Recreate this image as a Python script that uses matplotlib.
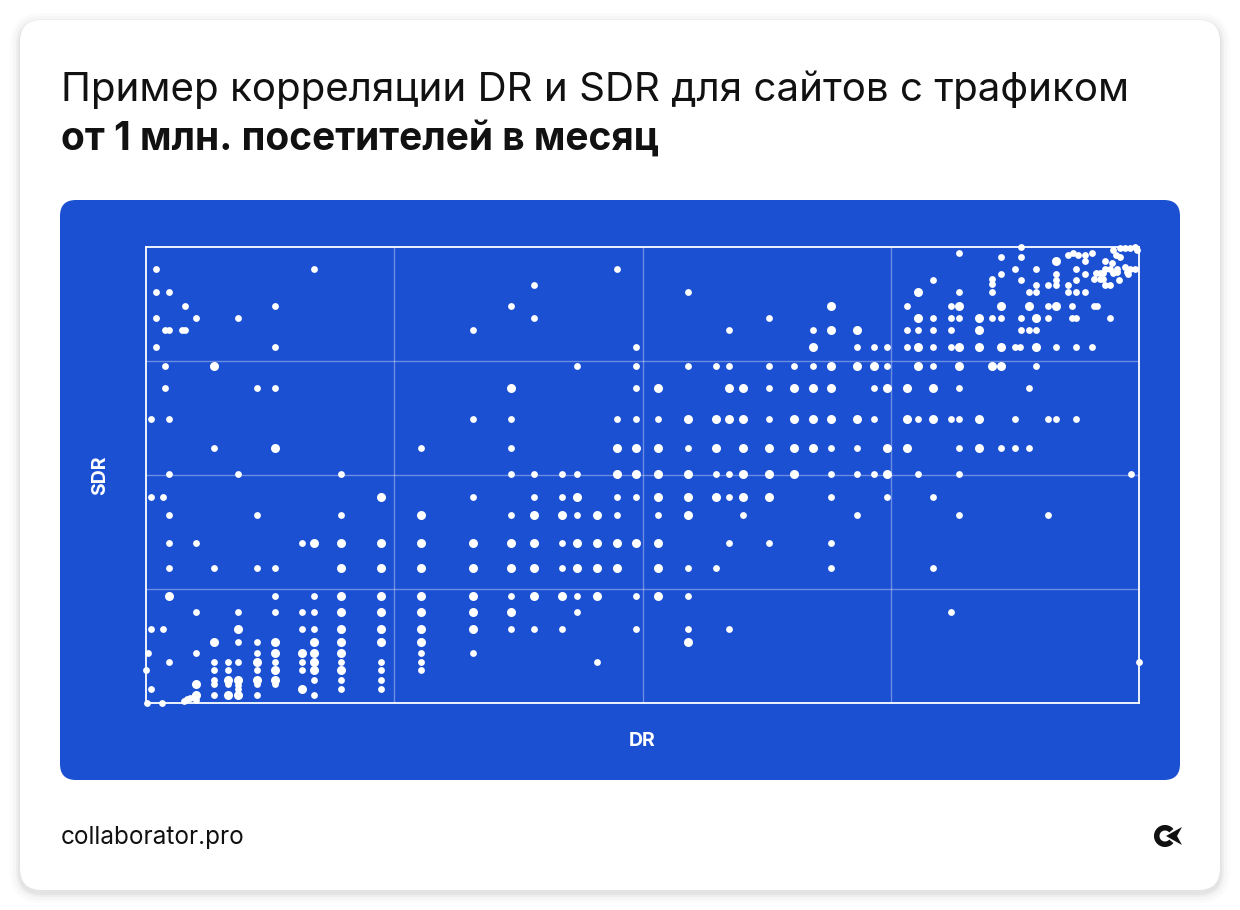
import matplotlib.pyplot as plt
from matplotlib.patches import FancyBboxPatch, Wedge, Polygon

# (DR, SDR); small dots and bigger dots
small_pts = [
    (1.0, 95.2), (16.9, 95.2), (1.0, 90.1), (2.3, 90.1), (3.9, 87.1), (13.0, 87.1),
    (1.0, 84.4), (5.0, 84.4), (9.3, 84.4), (1.9, 81.8), (2.3, 81.8), (3.6, 81.8),
    (3.9, 81.8), (1.0, 78.0), (13.0, 78.0), (1.9, 74.0), (1.9, 69.0), (11.2, 69.0),
    (13.0, 69.0), (0.5, 62.3), (2.3, 62.3), (6.8, 55.9), (2.3, 50.2), (9.3, 50.2),
    (19.6, 50.2),
    (0.5, 45.2), (1.7, 45.2), (2.3, 41.2), (11.2, 41.2), (19.6, 41.2), (2.3, 35.1),
    (5.0, 35.1), (15.7, 35.1), (2.3, 29.5), (6.8, 29.5), (11.2, 29.5), (13.0, 29.5),
    (13.0, 23.5), (16.9, 23.5), (5.0, 19.9), (9.3, 19.9), (13.0, 19.9), (15.7, 19.9),
    (16.9, 19.9), (0.5, 16.2), (1.7, 16.2), (15.7, 16.2), (16.9, 16.2), (9.3, 13.4),
    (11.2, 13.4), (0.2, 10.9), (5.0, 10.9), (11.2, 10.9), (2.3, 8.9), (6.8, 8.9),
    (8.3, 8.9), (9.3, 8.9), (13.0, 8.9), (15.7, 8.9), (19.6, 8.9), (23.7, 8.9),
    (0.0, 7.2), (6.8, 7.2), (8.3, 7.2), (11.2, 7.2), (15.7, 7.2), (23.7, 7.2),
    (6.8, 5.0), (16.9, 5.0), (19.6, 5.0), (23.7, 5.0), (6.8, 4.2), (8.3, 4.2),
    (9.3, 3.9), (11.2, 4.2), (13.0, 4.2), (0.5, 3.1), (9.3, 3.1), (19.6, 3.1),
    (23.7, 3.1), (6.8, 1.7), (11.2, 1.7), (16.9, 1.7), (3.8, 0.5), (4.1, 0.8),
    (4.4, 1.2), (4.8, 1.4), (5.0, 0.7), (0.1, 0.1), (1.6, 0.1),
    (47.4, 95.2), (39.1, 91.6), (36.8, 87.1), (39.1, 84.4), (32.9, 81.8), (49.3, 78.0),
    (43.4, 74.0), (49.3, 74.0), (49.3, 69.0), (32.9, 62.3), (36.8, 62.3), (47.4, 62.3),
    (49.3, 62.3), (27.7, 55.9), (36.8, 55.9), (36.8, 50.2), (39.1, 50.2), (41.9, 50.2),
    (43.4, 50.2),
    (32.9, 45.2), (39.1, 45.2), (41.9, 45.2), (47.4, 45.2), (49.3, 45.2), (36.8, 41.2),
    (43.4, 41.2), (47.4, 41.2), (41.9, 35.1), (41.9, 29.5), (36.8, 23.5), (43.4, 23.5),
    (49.3, 23.5), (43.4, 19.9), (36.8, 16.2), (39.1, 16.2), (41.9, 16.2), (49.3, 16.2),
    (27.7, 10.9), (32.9, 10.9), (27.7, 8.9), (45.4, 8.9), (27.7, 7.2),
    (54.6, 90.1), (62.7, 84.4), (58.7, 81.8), (67.2, 81.8), (71.6, 78.0), (73.3, 78.0),
    (74.6, 78.0), (54.6, 74.0), (57.4, 74.0), (58.7, 74.0), (62.7, 74.0), (65.3, 74.0),
    (67.2, 74.0), (74.6, 74.0), (62.7, 69.0), (73.3, 69.0), (51.6, 62.3), (62.7, 62.3),
    (73.3, 62.3), (54.6, 55.9), (69.0, 55.9), (71.6, 55.9), (57.4, 50.2), (58.7, 50.2),
    (69.0, 50.2), (71.6, 50.2), (73.3, 50.2),
    (58.7, 45.2), (69.0, 45.2), (74.6, 45.2), (51.6, 41.2), (60.1, 41.2), (71.6, 41.2),
    (58.7, 35.1), (62.7, 35.1), (69.0, 35.1), (54.6, 29.5), (57.4, 29.5), (69.0, 29.5),
    (54.6, 23.5), (54.6, 16.2), (58.7, 16.2),
    (76.6, 78.0), (79.3, 78.0), (81.1, 78.0), (87.5, 78.0), (88.0, 78.0), (91.6, 78.0),
    (93.7, 78.0), (95.3, 78.0), (79.3, 74.0), (89.6, 74.0), (81.9, 69.0), (88.9, 69.0),
    (77.7, 62.3), (81.1, 62.3), (81.9, 62.3), (87.5, 62.3), (90.8, 62.3), (91.6, 62.3),
    (93.7, 62.3), (81.9, 55.9), (86.1, 55.9), (87.5, 55.9), (88.9, 55.9), (77.7, 50.2),
    (81.9, 50.2), (99.2, 50.2), (79.3, 45.2), (81.9, 41.2), (90.8, 41.2), (79.3, 29.5),
    (81.1, 19.9), (100.0, 8.9),
    (81.9, 98.6), (86.1, 97.7), (86.1, 94.1), (79.3, 92.8), (85.2, 92.9), (85.2, 91.8),
    (81.9, 90.1), (85.2, 90.1), (76.6, 87.1), (81.1, 87.1), (79.3, 84.4), (81.1, 84.4),
    (81.9, 84.4), (85.2, 84.4), (86.1, 84.4), (76.6, 81.8), (77.7, 81.8), (79.3, 81.8),
    (81.1, 81.8),
    (88.1, 100.0), (88.1, 97.7), (87.5, 95.2), (89.6, 95.2), (88.1, 92.8), (92.9, 98.2),
    (93.4, 98.6), (93.9, 98.2), (94.6, 98.2), (94.6, 96.9), (95.3, 98.6), (97.4, 99.3),
    (97.7, 98.2), (98.1, 97.7), (98.1, 99.7), (98.6, 99.7), (99.1, 99.7), (99.6, 99.9),
    (99.8, 99.3), (96.6, 96.9), (97.3, 96.4), (93.7, 95.2), (96.6, 95.2), (97.1, 95.2),
    (97.8, 95.2), (98.6, 95.7), (99.1, 95.2), (99.6, 95.2), (91.6, 94.1), (91.6, 92.8),
    (94.6, 94.1), (95.7, 94.2), (96.1, 94.2), (96.4, 94.2), (97.4, 94.2), (97.8, 94.5),
    (98.8, 94.5), (98.9, 94.1), (95.5, 92.9), (96.1, 92.9), (96.4, 92.9), (98.0, 92.8),
    (89.6, 91.7), (90.8, 91.7), (91.6, 91.7), (92.9, 91.7), (93.7, 92.8), (96.6, 91.7),
    (97.1, 91.7), (88.9, 90.1), (89.6, 90.1), (92.9, 90.1), (93.7, 90.1), (94.6, 90.1),
    (90.8, 87.1), (93.3, 87.1), (95.5, 87.1), (95.8, 87.1), (88.1, 84.4), (90.8, 84.4),
    (93.3, 84.4), (93.7, 84.4), (97.1, 84.4), (88.1, 81.8), (88.9, 81.8), (89.6, 81.8),
]

big_pts = [
    (6.8, 74.0), (13.0, 55.9),
    (23.7, 45.2), (16.9, 35.1), (19.6, 35.1), (23.7, 35.1), (19.6, 29.5), (23.7, 29.5),
    (2.3, 23.5), (19.6, 23.5), (23.7, 23.5), (19.6, 19.9), (23.7, 19.9), (9.3, 16.2),
    (19.6, 16.2), (23.7, 16.2), (6.8, 13.4), (13.0, 13.4), (16.9, 13.4), (19.6, 13.4),
    (23.7, 13.4), (13.0, 10.9), (15.7, 10.9), (16.9, 10.9), (19.6, 10.9), (11.2, 8.9),
    (16.9, 8.9), (13.0, 7.2), (16.9, 7.2), (19.6, 7.2), (8.3, 5.0), (9.3, 5.0),
    (11.2, 5.0), (13.0, 5.0), (5.0, 4.2), (15.7, 3.1), (8.3, 1.7), (9.3, 1.7), (5.0, 1.7),
    (36.8, 69.0), (47.4, 55.9), (49.3, 55.9), (47.4, 50.2), (49.3, 50.2),
    (43.4, 45.2), (27.7, 41.2), (39.1, 41.2), (41.9, 41.2), (45.4, 41.2), (27.7, 35.1),
    (32.9, 35.1), (36.8, 35.1), (39.1, 35.1), (43.4, 35.1), (45.4, 35.1), (47.4, 35.1),
    (49.3, 35.1), (27.7, 29.5), (32.9, 29.5), (36.8, 29.5), (39.1, 29.5), (43.4, 29.5),
    (45.4, 29.5), (47.4, 29.5), (27.7, 23.5), (32.9, 23.5), (39.1, 23.5), (41.9, 23.5),
    (45.4, 23.5), (27.7, 19.9), (32.9, 19.9), (36.8, 19.9), (27.7, 16.2), (32.9, 16.2),
    (27.7, 13.4),
    (69.0, 87.1), (69.0, 81.8), (71.6, 81.8), (67.2, 78.0), (69.0, 74.0), (71.6, 74.0),
    (73.3, 74.0), (51.6, 69.0), (58.7, 69.0), (60.1, 69.0), (65.3, 69.0), (67.2, 69.0),
    (69.0, 69.0), (74.6, 69.0), (54.6, 62.3), (57.4, 62.3), (58.7, 62.3), (60.1, 62.3),
    (65.3, 62.3), (67.2, 62.3), (69.0, 62.3), (71.6, 62.3), (51.6, 55.9), (57.4, 55.9),
    (60.1, 55.9), (62.7, 55.9), (65.3, 55.9), (67.2, 55.9), (74.6, 55.9), (51.6, 50.2),
    (54.6, 50.2), (60.1, 50.2), (62.7, 50.2), (65.3, 50.2), (74.6, 50.2),
    (51.6, 45.2), (54.6, 45.2), (57.4, 45.2), (60.1, 45.2), (62.7, 45.2), (54.6, 41.2),
    (51.6, 35.1), (51.6, 29.5), (51.6, 23.5), (54.6, 13.4),
    (77.7, 78.0), (81.9, 78.0), (83.9, 78.0), (86.1, 78.0), (89.6, 78.0), (77.7, 74.0),
    (81.9, 74.0), (85.2, 74.0), (86.1, 74.0), (76.6, 69.0), (79.3, 69.0), (76.6, 62.3),
    (79.3, 62.3), (83.9, 62.3), (76.6, 55.9), (83.9, 55.9),
    (77.7, 90.1), (81.9, 87.1), (86.1, 87.1), (77.7, 84.4), (83.9, 84.4), (83.9, 81.8),
    (91.6, 96.9), (88.9, 87.1), (91.6, 87.1), (89.6, 84.4),
]

grid_ticks = [25, 50, 75]
title_1 = 'Пример корреляции DR и SDR для сайтов с трафиком'
title_2 = 'от 1 млн. посетителей в месяц'
x_label = 'DR'
y_label = 'SDR'
site = 'collaborator.pro'

blue = '#1b50d3'
fonts = ['Inter', 'Noto Sans', 'DejaVu Sans']

fig = plt.figure(figsize=(12.4, 9.1), dpi=100)
fig.patch.set_facecolor('white')

# background layer in pixel units
bg = fig.add_axes([0, 0, 1, 1])
bg.set_xlim(0, 1240)
bg.set_ylim(910, 0)
bg.axis('off')

# soft shadow under the card
for pad, alpha in [(10, 0.015), (7, 0.02), (4, 0.03), (2, 0.04)]:
    bg.add_patch(FancyBboxPatch((20 - pad, 23 - pad), 1200 + 2 * pad, 870 + 2 * pad,
                                boxstyle='round,pad=0,rounding_size=%d' % (22 + pad),
                                fc='black', ec='none', alpha=alpha))
bg.add_patch(FancyBboxPatch((20, 20), 1200, 870, boxstyle='round,pad=0,rounding_size=22',
                            fc='white', ec='none'))
bg.add_patch(FancyBboxPatch((60, 200), 1120, 580, boxstyle='round,pad=0,rounding_size=16',
                            fc=blue, ec='none'))

bg.text(61, 101, title_1, fontsize=29, family=fonts, color='#111111', va='baseline')
bg.text(61, 150, title_2, fontsize=28, family=fonts, fontweight='bold', color='#111111',
        va='baseline')
bg.text(61, 844, site, fontsize=17.5, family=fonts, color='#111111', va='baseline')
bg.text(642, 741, x_label, fontsize=14, family=fonts, fontweight='bold', color='white',
        ha='center', va='center')
bg.text(100, 475, y_label, fontsize=14, family=fonts, fontweight='bold', color='white',
        ha='center', va='center', rotation=90)

# logo
bg.add_patch(Wedge((1165, 836), 11, 40, 320, width=5.5, fc='#111111', ec='none'))
bg.add_patch(Polygon([(1166, 836), (1182, 827), (1177, 836), (1182, 845)],
                     closed=True, fc='#111111', ec='none'))

ax = fig.add_axes([146 / 1240, (910 - 703) / 910, 993 / 1240, 456 / 910])
ax.set_facecolor('none')
ax.set_xlim(0, 100)
ax.set_ylim(0, 100)
ax.set_xticks(grid_ticks)
ax.set_yticks(grid_ticks)
ax.tick_params(length=0, labelbottom=False, labelleft=False)
ax.grid(True, color='white', alpha=0.35, linewidth=1)
for sp in ax.spines.values():
    sp.set_color('white')
    sp.set_linewidth(1.3)

ax.scatter([p[0] for p in small_pts], [p[1] for p in small_pts], s=24, c='white',
           linewidths=0, clip_on=False, zorder=3)
ax.scatter([p[0] for p in big_pts], [p[1] for p in big_pts], s=42, c='white',
           linewidths=0, clip_on=False, zorder=3)

fig.savefig('out.png', dpi=100)
